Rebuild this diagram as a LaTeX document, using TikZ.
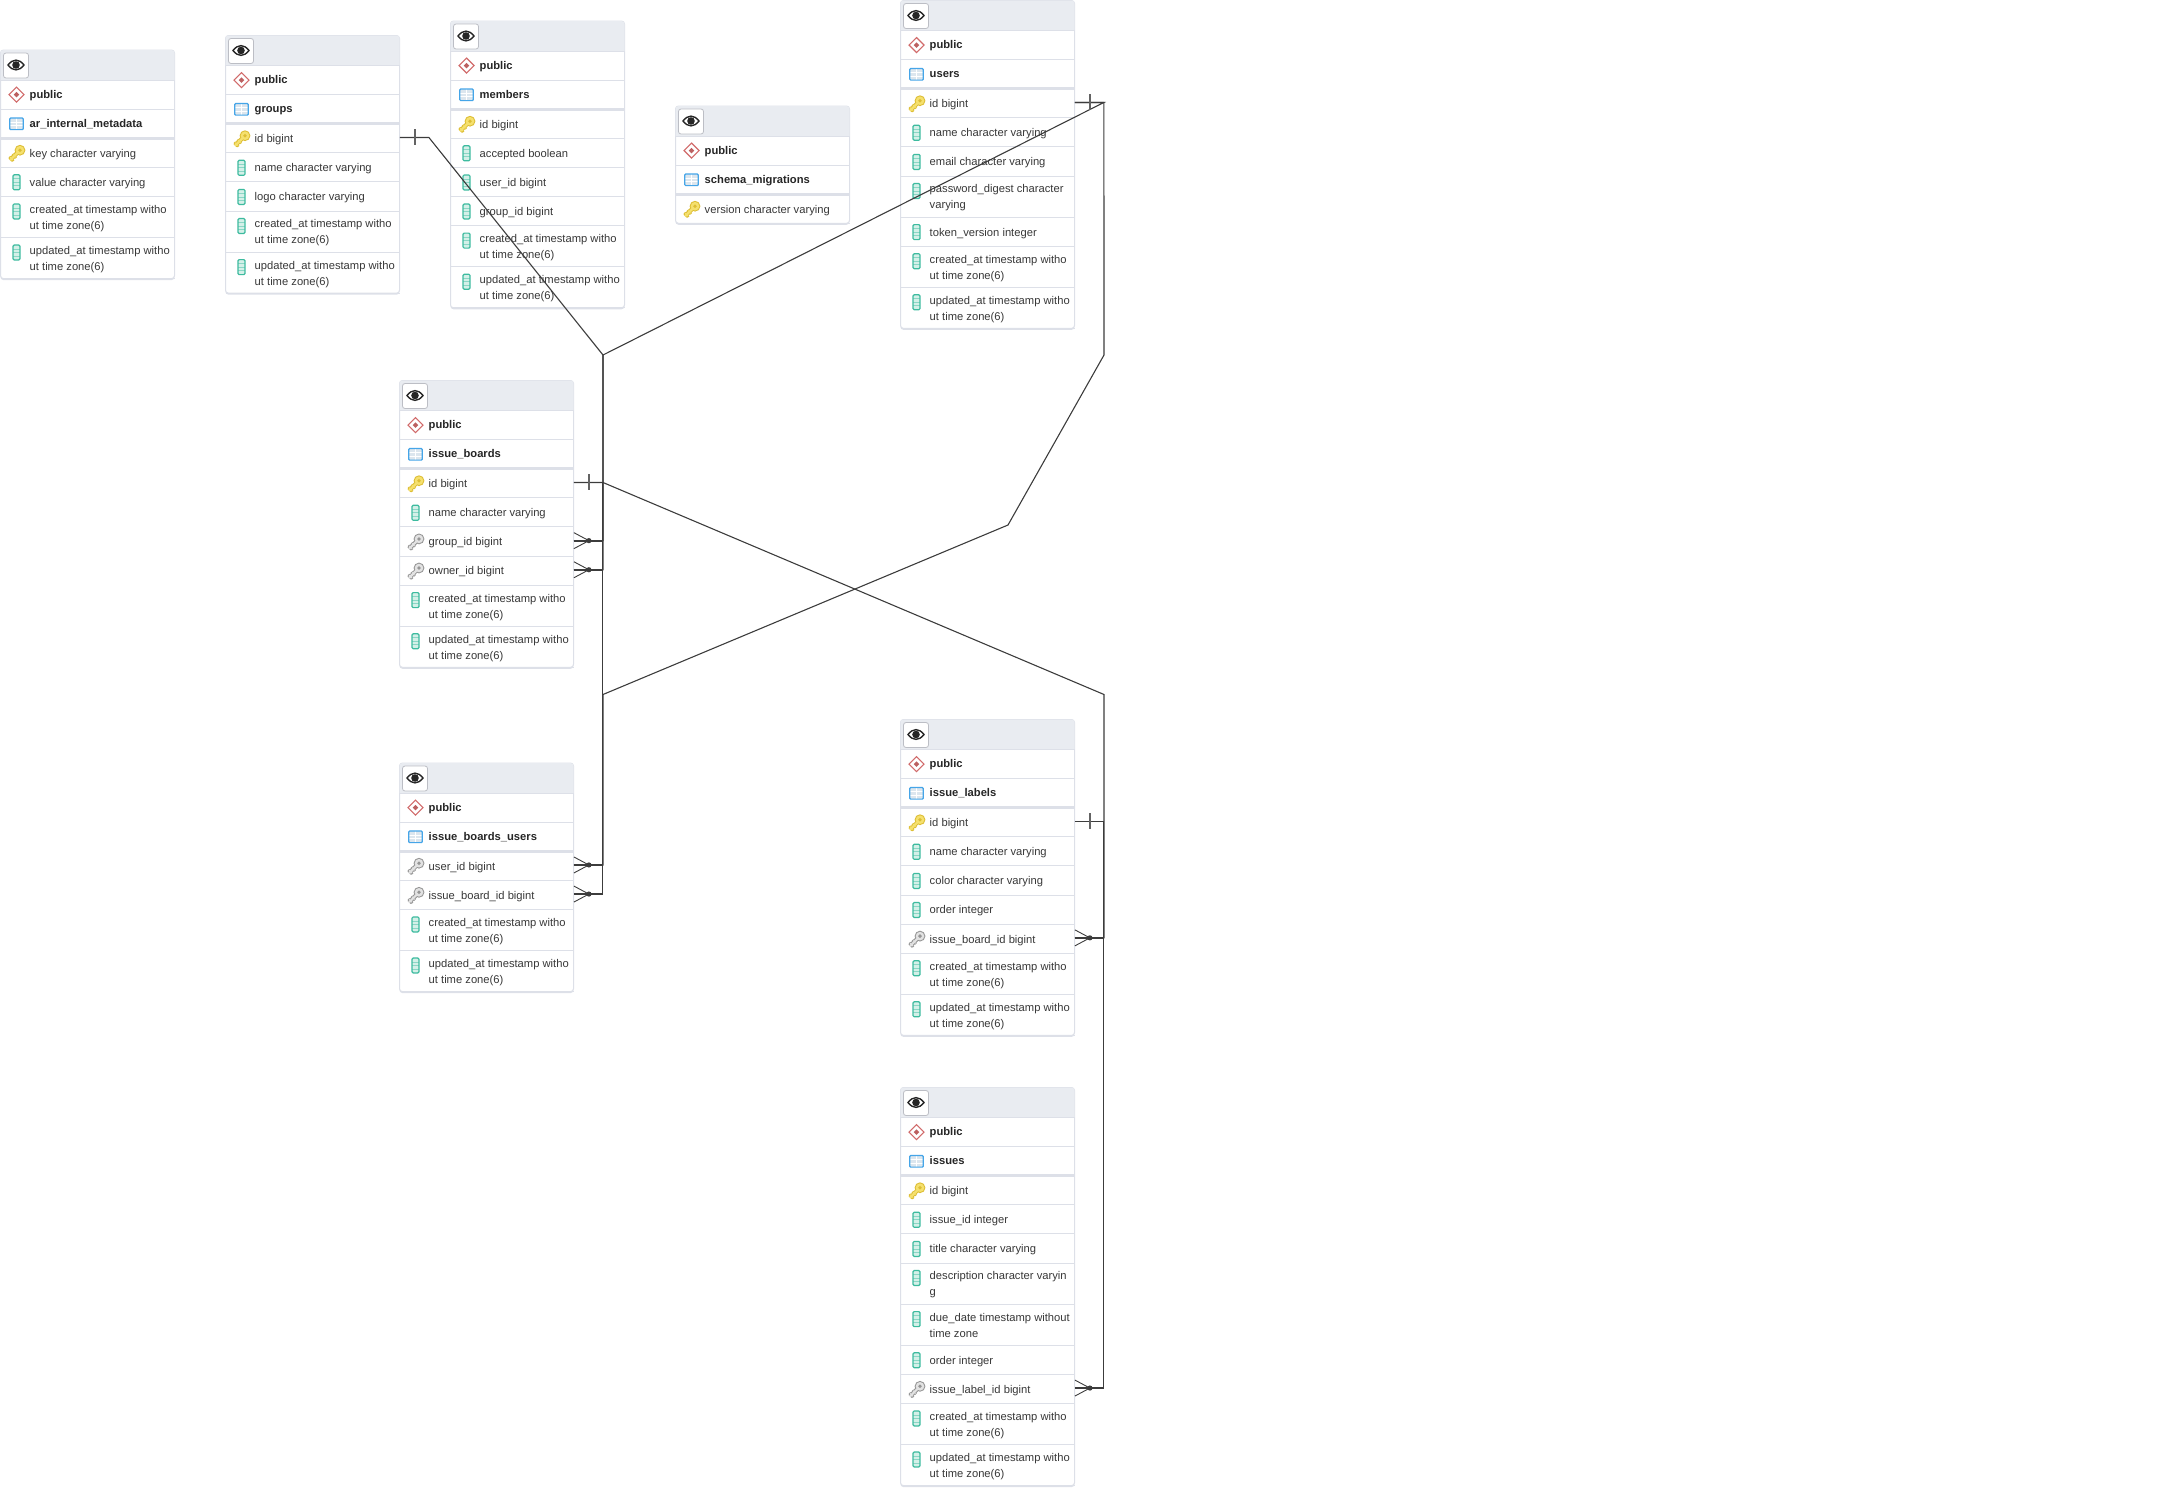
\documentclass[tikz,border=0pt]{standalone}
\usepackage{fontspec}
\setmainfont{Liberation Sans}
\usepackage{xcolor}
\usetikzlibrary{positioning,calc}

\definecolor{panelgray}{HTML}{E9ECF1}
\definecolor{rulegray}{HTML}{DDE0E8}
\definecolor{inkgray}{HTML}{383838}
\definecolor{linkgray}{HTML}{3C3C3C}
\definecolor{schemared}{HTML}{D16B6B}
\definecolor{tableblue}{HTML}{45A5E8}
\definecolor{tablepale}{HTML}{DCE6EE}
\definecolor{colteal}{HTML}{3DBB9F}
\definecolor{colpale}{HTML}{D4F0E8}
\definecolor{keyedge}{HTML}{DDBE35}
\definecolor{keyfill}{HTML}{F5E06E}
\definecolor{fkedge}{HTML}{969696}
\definecolor{fkfill}{HTML}{E2E2E2}

\newcommand{\keyglyph}[2]{
    \draw[#1, line width=4.2pt] (-6.5,7) -- (3,-2.5);
    \draw[#1, line width=2.2pt] (-7,3.5) -- (-3,7.8) (-4,1) -- (-0.5,4.8);
    \fill[#1] (3.5,-3) circle (5.4pt);
    \draw[#2, line width=2.2pt] (-6.5,7) -- (3,-2.5);
    \draw[#2, line width=0.9pt] (-6.4,4) -- (-3.4,7) (-3.4,1.4) -- (-1,4.2);
    \fill[#2] (3.5,-3) circle (4.3pt);
    \fill[#1] (3.5,-3) circle (1.9pt);
}

\tikzset{
    tableframe/.style={draw=rulegray, fill=white, line width=1pt, rounded corners=3pt},
    tableshade/.style={fill=rulegray, rounded corners=3pt},
    tablehead/.style={fill=panelgray},
    eyebutton/.style={draw=rulegray!85!black, fill=white, line width=0.8pt, rounded corners=2.5pt},
    rowline/.style={draw=rulegray, line width=1pt},
    namerule/.style={draw=rulegray, line width=2.6pt},
    rowspot/.style={minimum width=174pt, inner sep=0pt, anchor=north west},
    coltext/.style={anchor=west, align=left, inner sep=0pt, text=inkgray, font=\fontsize{11.2}{16}\selectfont},
    titletext/.style={anchor=west, inner sep=0pt, text=black!85, font=\fontsize{11.2}{16}\selectfont\bfseries},
    link/.style={draw=linkgray, line width=1.1pt},
    pics/eyeicon/.style={code={
        \draw[black!85, line width=1.4pt] (-8,0) .. controls (-3,-6.5) and (3,-6.5) .. (8,0) .. controls (3,6.5) and (-3,6.5) .. (-8,0) -- cycle;
        \fill[black!85] (0,0) circle (3.8pt);
    }},
    pics/schemaicon/.style={code={
        \draw[schemared, line width=1.2pt] (-7.5,0) -- (0,-7.5) -- (7.5,0) -- (0,7.5) -- cycle;
        \fill[schemared!90!black] (-2.8,0) -- (0,-2.8) -- (2.8,0) -- (0,2.8) -- cycle;
    }},
    pics/tableicon/.style={code={
        \fill[tablepale] (-6.8,-5.8) rectangle (6.8,5.8);
        \draw[white, line width=0.9pt] (-6.8,-1.5) -- (6.8,-1.5) (-6.8,2) -- (6.8,2) (0,-5.8) -- (0,5.8);
        \draw[tableblue, line width=1.2pt, rounded corners=1pt] (-6.8,-5.8) rectangle (6.8,5.8);
    }},
    pics/colicon/.style={code={
        \fill[colpale] (-3.5,-7.5) rectangle (3.5,7.5);
        \draw[colteal!60, line width=0.8pt] (-3.5,-3.5) -- (3.5,-3.5) (-3.5,0) -- (3.5,0) (-3.5,3.5) -- (3.5,3.5);
        \draw[colteal, line width=1.2pt, rounded corners=1.2pt] (-3.5,-7.5) rectangle (3.5,7.5);
    }},
    pics/pkicon/.style={code={\keyglyph{keyedge}{keyfill}}},
    pics/fkicon/.style={code={\keyglyph{fkedge}{fkfill}}},
    pics/oneend/.style={code={
        \draw[linkgray, line width=1.8pt] (0,0) -- (29,0);
        \draw[linkgray!80, line width=1.4pt] (15,-8) -- (15,8);
    }},
    pics/manyend/.style={code={
        \draw[linkgray, line width=1.8pt] (0,0) -- (29,0);
        \draw[linkgray, line width=0.9pt] (0,-8) -- (15,0) -- (0,8);
        \fill[linkgray] (15,0) circle (2.6pt);
    }},
}

% #1 name, #2 x, #3 y, #4 table title, #5 rows: id/kind/lines/text
\newcommand{\erdtable}[5]{
    \begin{scope}[shift={(#2,#3)}]
        \xdef\erdtop{88.2}
        \foreach \rowid/\rowkind/\rowlines/\rowtext in {#5} {
            \pgfmathsetmacro{\erdnext}{\erdtop+(\rowlines==1 ? 29.1 : 41.1)}
            \xdef\erdtop{\erdnext}
        }
        \fill[tableshade] (0,0) rectangle (174,\erdtop+1.5);
        \draw[tableframe] (0,0) rectangle (174,\erdtop);
        \fill[tablehead] (0,30) {[rounded corners=3pt] -- (0,0) -- (174,0)} -- (174,30) -- cycle;
        \draw[eyebutton] (3,3) rectangle (28,28);
        \pic at (15.5,15) {eyeicon};
        \draw[rowline] (0,30) -- (174,30) (0,59.1) -- (174,59.1);
        \draw[namerule] (0,88.2) -- (174,88.2);
        \pic at (16,44.6) {schemaicon};
        \node[titletext] (#1-schema) at (29,45.1) {\strut public};
        \pic at (16,73.8) {tableicon};
        \node[titletext] (#1-title) at (29,74.1) {\strut #4};
        \xdef\erdtop{88.2}
        \foreach \rowid/\rowkind/\rowlines/\rowtext in {#5} {
            \pgfmathsetmacro{\erdrowh}{\rowlines==1 ? 29.1 : 41.1}
            \pgfmathsetmacro{\erdnext}{\erdtop+\erdrowh}
            \node[rowspot, minimum height=\erdrowh*1pt-2pt] (#1-\rowid) at (0,\erdtop) {};
            \pic at (16,\erdtop+15) {\rowkind icon};
            \node[coltext] (#1-\rowid-text) at (29,\erdtop+\erdrowh/2+1.2) {\strut\rowtext\strut};
            \draw[rowline] (0,\erdnext) -- (174,\erdnext);
            \xdef\erdtop{\erdnext}
        }
    \end{scope}
}

\begin{document}
\begin{tikzpicture}[x=1pt, y=-1pt]
    \useasboundingbox (0,0) rectangle (2166,1497);

    \erdtable{metadata}{0.5}{50}{ar\_internal\_metadata}{
        key/pk/1/{key character varying},
        value/col/1/{value character varying},
        created/col/2/{created\_at timestamp witho\\ut time zone(6)},
        updated/col/2/{updated\_at timestamp witho\\ut time zone(6)}}
    \erdtable{groups}{225.5}{35.5}{groups}{
        id/pk/1/{id bigint},
        name/col/1/{name character varying},
        logo/col/1/{logo character varying},
        created/col/2/{created\_at timestamp witho\\ut time zone(6)},
        updated/col/2/{updated\_at timestamp witho\\ut time zone(6)}}
    \erdtable{members}{450.5}{21}{members}{
        id/pk/1/{id bigint},
        accepted/col/1/{accepted boolean},
        user/col/1/{user\_id bigint},
        group/col/1/{group\_id bigint},
        created/col/2/{created\_at timestamp witho\\ut time zone(6)},
        updated/col/2/{updated\_at timestamp witho\\ut time zone(6)}}
    \erdtable{migrations}{675.5}{106}{schema\_migrations}{
        version/pk/1/{version character varying}}
    \erdtable{users}{900.5}{0.5}{users}{
        id/pk/1/{id bigint},
        name/col/1/{name character varying},
        email/col/1/{email character varying},
        password/col/2/{password\_digest character\\varying},
        token/col/1/{token\_version integer},
        created/col/2/{created\_at timestamp witho\\ut time zone(6)},
        updated/col/2/{updated\_at timestamp witho\\ut time zone(6)}}
    \erdtable{boards}{399.5}{380.5}{issue\_boards}{
        id/pk/1/{id bigint},
        name/col/1/{name character varying},
        group/fk/1/{group\_id bigint},
        owner/fk/1/{owner\_id bigint},
        created/col/2/{created\_at timestamp witho\\ut time zone(6)},
        updated/col/2/{updated\_at timestamp witho\\ut time zone(6)}}
    \erdtable{boardusers}{399.5}{763}{issue\_boards\_users}{
        user/fk/1/{user\_id bigint},
        board/fk/1/{issue\_board\_id bigint},
        created/col/2/{created\_at timestamp witho\\ut time zone(6)},
        updated/col/2/{updated\_at timestamp witho\\ut time zone(6)}}
    \erdtable{labels}{900.5}{719.5}{issue\_labels}{
        id/pk/1/{id bigint},
        name/col/1/{name character varying},
        color/col/1/{color character varying},
        order/col/1/{order integer},
        board/fk/1/{issue\_board\_id bigint},
        created/col/2/{created\_at timestamp witho\\ut time zone(6)},
        updated/col/2/{updated\_at timestamp witho\\ut time zone(6)}}
    \erdtable{issues}{900.5}{1087.5}{issues}{
        id/pk/1/{id bigint},
        issue/col/1/{issue\_id integer},
        title/col/1/{title character varying},
        description/col/2/{description character varyin\\g},
        due/col/2/{due\_date timestamp without\\time zone},
        order/col/1/{order integer},
        label/fk/1/{issue\_label\_id bigint},
        created/col/2/{created\_at timestamp witho\\ut time zone(6)},
        updated/col/2/{updated\_at timestamp witho\\ut time zone(6)}}

    % bends of the links
    \coordinate (hubtop) at (603,355);
    \coordinate (hubbottom) at (603,694.5);
    \coordinate (rightbend) at (1104,355);
    \coordinate (midbend) at (1008,525);
    \coordinate (rightlow) at (1104,694.5);

    \draw[link] (groups-id.east) -- ++(29,0) -- (hubtop) |- (boards-group.east);
    \draw[link] (users-id.east) -- ++(29,0) -- (hubtop) |- (boards-owner.east);
    \draw[link] (users-id.east) -- ++(29,0) -- (rightbend) -- (midbend) -- (hubbottom) |- (boardusers-user.east);
    \draw[link] (boards-id.east) -- ++(29,0) |- (boardusers-board.east);
    \draw[link] (boards-id.east) -- ++(29,0) -- (rightlow) |- (labels-board.east);
    \draw[link] (labels-id.east) -- ++(29,0) |- (issues-label.east);

    \pic at (groups-id.east) {oneend};
    \pic at (users-id.east) {oneend};
    \pic at (boards-id.east) {oneend};
    \pic at (labels-id.east) {oneend};
    \pic at (boards-group.east) {manyend};
    \pic at (boards-owner.east) {manyend};
    \pic at (boardusers-user.east) {manyend};
    \pic at (boardusers-board.east) {manyend};
    \pic at (labels-board.east) {manyend};
    \pic at (issues-label.east) {manyend};
\end{tikzpicture}
\end{document}
